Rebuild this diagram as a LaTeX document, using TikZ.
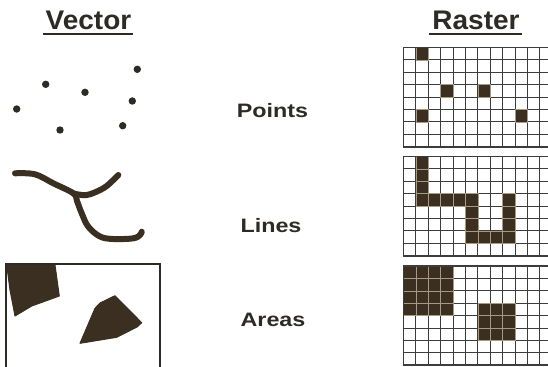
\documentclass[tikz,border=0pt]{standalone}
\usepackage{fontspec}
\setmainfont{Liberation Sans}
\newfontfamily\titlefont[FakeStretch=1.04]{Liberation Sans}
\newfontfamily\labelfont[FakeStretch=1.2]{Liberation Sans}
\definecolor{ink}{HTML}{2E2A24}
\definecolor{darkfill}{HTML}{3A2F20}
\definecolor{gridcol}{HTML}{3C3C3C}
\definecolor{cellline}{HTML}{A89A80}
\tikzset{
  titletext/.style={anchor=base, inner sep=0pt, text=ink, font=\titlefont\bfseries\fontsize{27}{30}\selectfont},
  labeltext/.style={anchor=base, inner sep=0pt, text=ink, font=\labelfont\bfseries\fontsize{19.5}{22}\selectfont},
  underline/.style={draw=ink, line width=2bp},
  dot/.style={fill=ink},
  gridline/.style={draw=gridcol, line width=1bp},
  gridborder/.style={draw=gridcol, line width=1.6bp},
  darkcell/.style={fill=darkfill, draw=cellline, line width=0.6bp},
  vecline/.style={draw=darkfill, line width=6bp, line cap=round, line join=round},
  vecarea/.style={fill=darkfill, draw=darkfill, line width=1bp, line join=round},
}
\newcommand\rcell[3]{\path[darkcell] ({403.5+12.4*#2},{#1+12.4*#3}) rectangle ++(12.4,12.4);}
\begin{document}
\begin{tikzpicture}[x=1bp,y=-1bp]
\useasboundingbox (0,0) rectangle (548,366);
\clip (0,0) rectangle (548,366);
\fill[white] (0,0) rectangle (548,366);

% titles
\node[titletext] (tvec) at (88.5,29.3) {Vector};
\node[titletext] (tras) at (476,29.3) {Raster};
\draw[underline] (43,34) -- (133,34);
\draw[underline] (429,33.5) -- (522,33.5);

% labels
\node[labeltext] (lpts) at (272.5,117) {Points};
\node[labeltext] (llin) at (271,232.7) {Lines};
\node[labeltext] (lare) at (273,326) {Areas};

% vector points
\foreach \px/\py in {137.3/69.3, 45.7/84.3, 85/92.3, 132.3/101, 16.7/109, 60/130, 122.7/125.7}
  \fill[dot] (\px,\py) circle (3.7);

% vector lines
\draw[vecline] plot[smooth, tension=0.6] coordinates {(15,173.3) (35,174.3) (53.3,183.3) (73.3,193.3) (77,201) (81.7,213.3) (88.3,226.7) (100,236.5) (113.3,239) (133.3,238.3) (140,235) (141.7,231.7)};
\draw[vecline] plot[smooth, tension=0.6] coordinates {(73.3,193.3) (86.7,195) (103.3,188.3) (113.3,180) (118.3,175)};

% vector areas
\draw[draw=ink, line width=2bp] (6,264) rectangle (160,372);
\path[vecarea] (6.7,265) -- (55,265) -- (59.3,296) -- (31.7,306) -- (15,316) -- (10,290) -- cycle;
\path[vecarea] (95,308.3) -- (100,303) -- (115,295.7) -- (141.7,322.7) -- (137,327) -- (116.7,337.3) -- (80,343.3) -- cycle;

% grid lines
\foreach \t in {47.5,156.5,266} {
  \foreach \i in {1,...,11} {\path[gridline] ({403.5+12.4*\i},\t) -- ++(0,99.2);}
  \foreach \j in {1,...,7} {\path[gridline] (403.5,{\t+12.4*\j}) -- ++(148.8,0);}
}

% raster grids: dark cells
% grid 1
\rcell{47.5}{1}{0}
\rcell{47.5}{3}{3}
\rcell{47.5}{6}{3}
\rcell{47.5}{1}{5}
\rcell{47.5}{9}{5}
% grid 2
\foreach \r in {0,...,3} {\rcell{156.5}{1}{\r}}
\foreach \c in {2,...,5} {\rcell{156.5}{\c}{3}}
\foreach \r in {4,...,6} {\rcell{156.5}{5}{\r}}
\foreach \c in {6,...,8} {\rcell{156.5}{\c}{6}}
\foreach \r in {3,...,5} {\rcell{156.5}{8}{\r}}
% grid 3
\foreach \c in {0,...,3} {\foreach \r in {0,...,3} {\rcell{266}{\c}{\r}}}
\foreach \c in {6,...,8} {\foreach \r in {3,...,5} {\rcell{266}{\c}{\r}}}

% grid borders
\foreach \t in {47.5,156.5,266} {
  \path[gridborder] (403.5,\t) rectangle ++(148.8,99.2);
}
\end{tikzpicture}
\end{document}
